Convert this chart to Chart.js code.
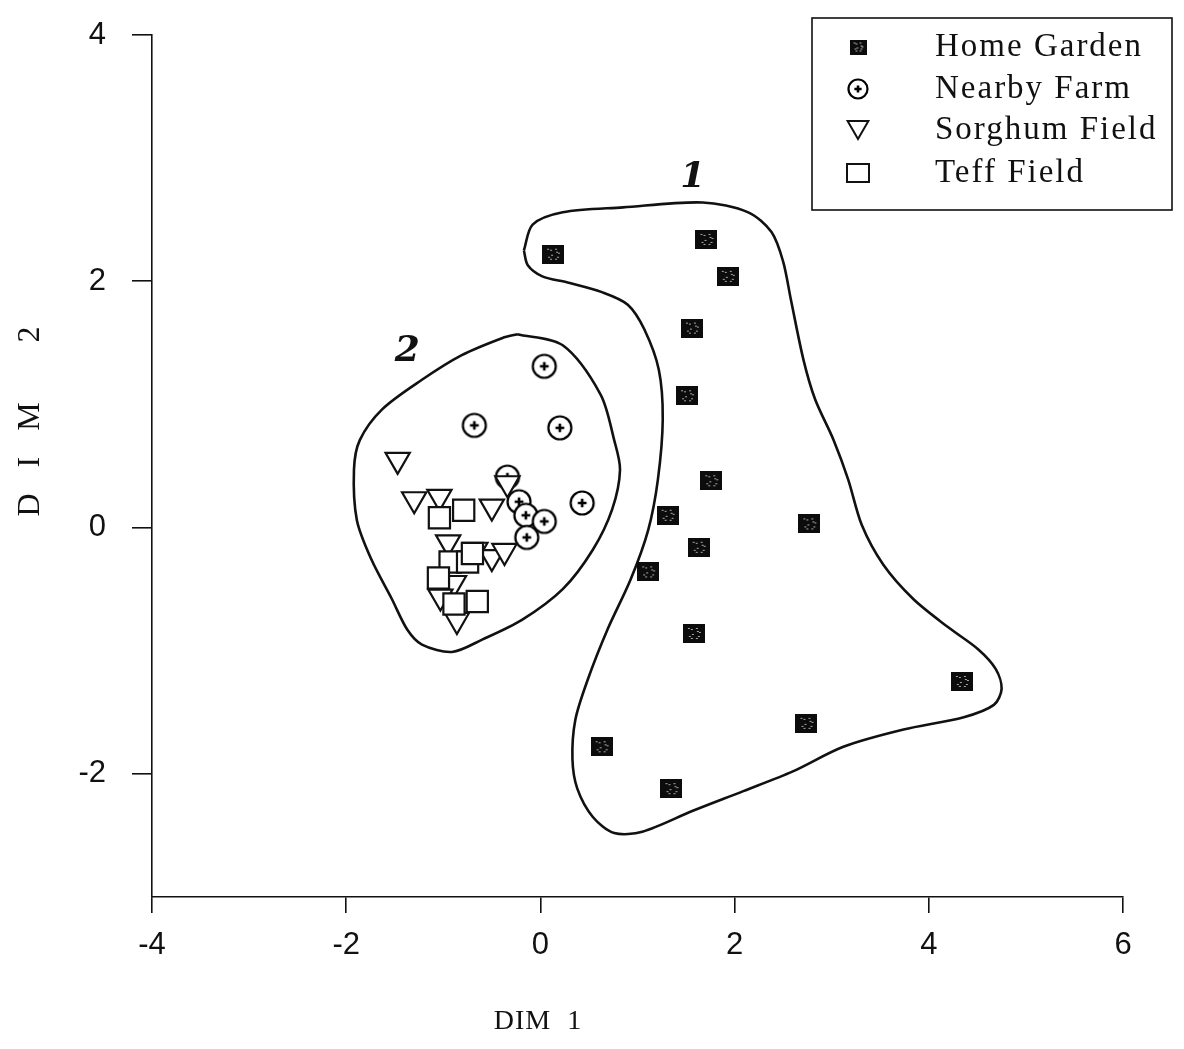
<!DOCTYPE html>
<html>
<head>
<meta charset="utf-8">
<title>DIM 1 vs DIM 2</title>
<script src="https://cdn.jsdelivr.net/npm/chart.js@4.4.1/dist/chart.umd.min.js"></script>
<style>
  html, body { margin: 0; padding: 0; background: #fff; }
  canvas { display: block; }
</style>
</head>
<body>
<canvas id="chart" width="1184" height="1049"></canvas>
<script>
// ---- data ----
const seriesNames = ["Home Garden", "Nearby Farm", "Sorghum Field", "Teff Field"];

const homeGardenX = [0.13, 1.71, 1.93, 1.56, 1.51, 1.76, 1.31, 2.77, 1.63, 1.11, 1.58, 4.34, 2.74, 0.63, 1.35];
const homeGardenY = [2.22, 2.34, 2.04, 1.62, 1.07, 0.38, 0.10, 0.03, -0.16, -0.36, -0.86, -1.25, -1.59, -1.78, -2.12];

const nearbyFarmX = [0.04, -0.68, 0.20, 0.43, -0.34, -0.22, -0.15, 0.04, -0.14];
const nearbyFarmY = [1.31, 0.83, 0.81, 0.20, 0.41, 0.21, 0.10, 0.05, -0.08];

const sorghumX = [-1.47, -1.30, -1.04, -0.34, -0.50, -0.95, -0.67, -0.50, -0.37, -0.89, -1.03, -0.86];
const sorghumY = [0.55, 0.23, 0.25, 0.36, 0.17, -0.12, -0.18, -0.24, -0.19, -0.45, -0.56, -0.75];

const teffX = [-1.04, -0.79, -0.93, -0.75, -0.70, -1.05, -0.89, -0.65];
const teffY = [0.08, 0.14, -0.28, -0.28, -0.21, -0.41, -0.62, -0.60];

// hand-drawn cluster outlines (closed)
const outline1X = [-0.17, -0.08, 0.23, 0.85, 1.67, 2.14, 2.38, 2.50, 2.58, 2.71, 2.83, 3.02, 3.17, 3.31, 3.53, 3.84, 4.20, 4.51, 4.69, 4.75, 4.67, 4.36, 3.74, 3.12, 2.60, 2.09, 1.57, 1.05, 0.76, 0.54, 0.38, 0.33, 0.36, 0.49, 0.69, 0.93, 1.11, 1.21, 1.26, 1.22, 1.07, 0.90, 0.64, 0.28, 0.02, -0.13, -0.17];
const outline1Y = [2.25, 2.46, 2.56, 2.60, 2.64, 2.56, 2.40, 2.16, 1.85, 1.36, 1.04, 0.71, 0.39, 0.02, -0.30, -0.58, -0.81, -0.99, -1.15, -1.31, -1.44, -1.54, -1.64, -1.78, -1.98, -2.14, -2.30, -2.47, -2.48, -2.35, -2.12, -1.88, -1.56, -1.23, -0.83, -0.42, -0.02, 0.39, 0.88, 1.28, 1.61, 1.81, 1.91, 1.99, 2.04, 2.13, 2.25];

const outline2X = [-0.24, 0.23, 0.62, 0.76, 0.82, 0.74, 0.54, 0.23, -0.19, -0.60, -0.91, -1.22, -1.37, -1.53, -1.74, -1.89, -1.92, -1.86, -1.63, -1.22, -0.81, -0.39, -0.24];
const outline2Y = [1.57, 1.48, 1.08, 0.71, 0.47, 0.15, -0.18, -0.50, -0.75, -0.91, -1.01, -0.95, -0.83, -0.58, -0.26, 0.06, 0.47, 0.71, 0.96, 1.20, 1.40, 1.54, 1.57];

const clusterNames = ["1", "2"];

const xTicks = [-4, -2, 0, 2, 4, 6];
const yTicks = [-2, 0, 2, 4];

const xTitle = "DIM  1";
const yTitle = "D I M   2";

// ---- helpers ----
const zip = (xs, ys) => xs.map((x, i) => ({ x, y: ys[i] }));

// speckled dark square, like the scanned home-garden symbol
function makeHomeImg(w, h) {
  const c = document.createElement("canvas");
  c.width = w;
  c.height = h;
  const g = c.getContext("2d");
  g.fillStyle = "#0c0c0c";
  g.fillRect(0, 0, w, h);
  g.fillStyle = "#a8a8a8";
  const dots = [[5, 4], [8, 5], [12, 4], [13, 7], [9, 9], [6, 11], [14, 11], [8, 13], [12, 13], [15, 8]];
  dots.forEach(([dx, dy]) => g.fillRect(Math.round(dx * w / 21), Math.round(dy * h / 18), 2, 1));
  return c;
}

// circle with a plus inside
function makeFarmImg(r) {
  const s = Math.ceil(r * 2 + 5);
  const c = document.createElement("canvas");
  c.width = s;
  c.height = s;
  const g = c.getContext("2d");
  const m = s / 2;
  g.beginPath();
  g.arc(m, m, r, 0, Math.PI * 2);
  g.fillStyle = "#fff";
  g.fill();
  g.lineWidth = 2.2;
  g.strokeStyle = "#000";
  g.stroke();
  const a = r * 0.38;
  g.lineWidth = 2.6;
  g.beginPath();
  g.moveTo(m - a, m);
  g.lineTo(m + a, m);
  g.moveTo(m, m - a);
  g.lineTo(m, m + a);
  g.stroke();
  return c;
}

const homeImg = makeHomeImg(22, 19);
const homeImgSmall = makeHomeImg(17, 15);
const farmImg = makeFarmImg(11.5);
const farmImgSmall = makeFarmImg(9.5);

// legend + titles + cluster numbers
const annotate = {
  id: "annotate",
  afterDraw(chart) {
    const ctx = chart.ctx;
    const xs = chart.scales.x;
    const ys = chart.scales.y;
    ctx.save();
    ctx.fillStyle = "#111";

    // axis titles
    ctx.textAlign = "center";
    ctx.textBaseline = "middle";
    ctx.font = '28px "Liberation Serif", serif';
    if ("letterSpacing" in ctx) ctx.letterSpacing = "1px";
    ctx.fillText(xTitle, 538, 1022);

    ctx.save();
    ctx.translate(31, 417);
    ctx.rotate(-Math.PI / 2);
    if ("letterSpacing" in ctx) ctx.letterSpacing = "9px";
    ctx.font = '32px "Liberation Serif", serif';
    ctx.fillText(yTitle, 0, 0);
    ctx.restore();

    // handwritten cluster numbers
    ctx.font = 'italic bold 36px "DejaVu Serif", serif';
    if ("letterSpacing" in ctx) ctx.letterSpacing = "0px";
    ctx.fillText(clusterNames[0], xs.getPixelForValue(1.57), ys.getPixelForValue(2.84));
    ctx.fillText(clusterNames[1], xs.getPixelForValue(-1.37), ys.getPixelForValue(1.43));

    // legend box
    const bx = 812, by = 18, bw = 360, bh = 192;
    ctx.fillStyle = "#fff";
    ctx.fillRect(bx, by, bw, bh);
    ctx.lineWidth = 1.6;
    ctx.strokeStyle = "#111";
    ctx.strokeRect(bx, by, bw, bh);

    const rowY = [47, 89, 130, 173];
    const mx = 858;
    chart.data.datasets.slice(0, 4).forEach((ds, i) => {
      const y = rowY[i];
      ctx.save();
      ctx.strokeStyle = "#111";
      ctx.fillStyle = "#fff";
      if (i === 0) {
        ctx.drawImage(homeImgSmall, mx - homeImgSmall.width / 2, y - homeImgSmall.height / 2);
      } else if (i === 1) {
        ctx.drawImage(farmImgSmall, mx - farmImgSmall.width / 2, y - farmImgSmall.height / 2);
      } else if (i === 2) {
        ctx.lineWidth = 2;
        Chart.helpers.drawPoint(ctx, { pointStyle: "triangle", rotation: 180, radius: 12, borderWidth: 2 }, mx, y - 3);
      } else {
        ctx.lineWidth = 2;
        ctx.fillRect(mx - 11, y - 9, 22, 18);
        ctx.strokeRect(mx - 11, y - 9, 22, 18);
      }
      ctx.restore();
      ctx.fillStyle = "#111";
      ctx.textAlign = "left";
      ctx.textBaseline = "middle";
      ctx.font = '33px "Liberation Serif", serif';
      if ("letterSpacing" in ctx) ctx.letterSpacing = "2px";
      ctx.fillText(ds.label, 935, y);
    });
    ctx.restore();
  },
};

const outlineStyle = {
  showLine: true,
  pointRadius: 0,
  borderColor: "#111",
  borderWidth: 2.6,
  tension: 0.3,
  fill: false,
  order: 10,
};

new Chart(document.getElementById("chart"), {
  type: "scatter",
  data: {
    datasets: [
      {
        label: seriesNames[0],
        data: zip(homeGardenX, homeGardenY),
        pointStyle: homeImg,
        order: 3,
      },
      {
        label: seriesNames[1],
        data: zip(nearbyFarmX, nearbyFarmY),
        pointStyle: farmImg,
        order: 2,
      },
      {
        label: seriesNames[2],
        data: zip(sorghumX, sorghumY),
        pointStyle: "triangle",
        rotation: 180,
        pointRadius: 14,
        borderWidth: 2.2,
        borderColor: "#111",
        backgroundColor: "#fff",
        order: 1,
      },
      {
        label: seriesNames[3],
        data: zip(teffX, teffY),
        pointStyle: "rect",
        pointRadius: 15,
        borderWidth: 2.2,
        borderColor: "#111",
        backgroundColor: "#fff",
        order: 0,
      },
      { label: "cluster 1", data: zip(outline1X, outline1Y), ...outlineStyle },
      { label: "cluster 2", data: zip(outline2X, outline2Y), ...outlineStyle },
    ],
  },
  options: {
    responsive: false,
    devicePixelRatio: 1,
    animation: false,
    events: [],
    layout: { padding: { top: 35, right: 61, bottom: 0, left: 0 } },
    plugins: {
      legend: { display: false },
      tooltip: { enabled: false },
    },
    scales: {
      x: {
        type: "linear",
        min: -4,
        max: 6,
        afterBuildTicks: (s) => { s.ticks = xTicks.map((v) => ({ value: v })); },
        afterFit: (s) => { s.height = 152; },
        border: { display: true, color: "#111", width: 1.6 },
        grid: { drawOnChartArea: false, drawTicks: true, tickLength: 16, color: "#111", lineWidth: 1.6 },
        ticks: {
          color: "#111",
          padding: 14,
          font: { family: '"Liberation Sans", Arial, sans-serif', size: 31 },
          maxRotation: 0,
        },
      },
      y: {
        type: "linear",
        min: -3,
        max: 4,
        afterBuildTicks: (s) => { s.ticks = yTicks.map((v) => ({ value: v })); },
        afterFit: (s) => {
          s.width = 152;
          s.paddingTop = 0;
          s.paddingBottom = 0;
        },
        border: { display: true, color: "#111", width: 1.6 },
        grid: { drawOnChartArea: false, drawTicks: true, tickLength: 20, color: "#111", lineWidth: 1.6 },
        ticks: {
          color: "#111",
          padding: 26,
          font: { family: '"Liberation Sans", Arial, sans-serif', size: 31 },
        },
      },
    },
  },
  plugins: [annotate],
});
</script>
</body>
</html>
